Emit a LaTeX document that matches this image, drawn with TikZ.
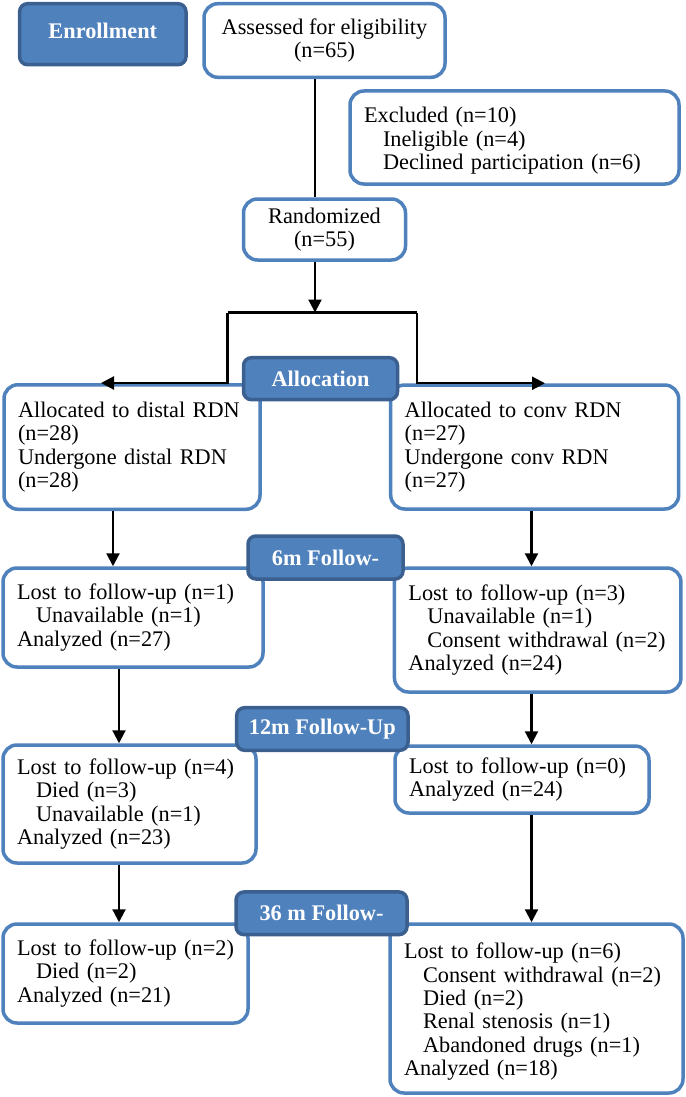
\documentclass[tikz,border=0pt]{standalone}
\usepackage{fontspec}
\setmainfont{Liberation Serif}
\usetikzlibrary{arrows.meta}
\definecolor{boxblue}{HTML}{4F81BD}
\definecolor{hdrfill}{HTML}{4F81BD}
\definecolor{hdrdraw}{HTML}{3B6090}
\newcommand{\myind}{\hspace*{19pt}}
\begin{document}
\begin{tikzpicture}[x=1pt,y=-1pt,
  font=\fontsize{22.3}{23.3}\selectfont,
  wbox/.style={draw=boxblue, line width=3.5pt, rounded corners=14pt, fill=white, inner xsep=14pt, inner ysep=0pt},
  lbox/.style={wbox, align=left},
  cbox/.style={wbox, align=center},
  hdr/.style={draw=hdrdraw, fill=hdrfill, line width=3.5pt, rounded corners=8pt, text=white,
    font=\fontsize{22.3}{23.3}\selectfont\bfseries, inner sep=0pt},
  conn/.style={line width=2.2pt, draw=black},
  arr/.style={conn, -{Triangle[length=13pt,width=13pt]}}]
\useasboundingbox (0,0) rectangle (685,1097);
\fill[white] (0,0) rectangle (685,1097);

% white boxes
\node[cbox, minimum width=241pt, minimum height=73.6pt] (assess) at (324.5,40.5) {Assessed for eligibility\\(n=65)};
\node[lbox, minimum height=93pt, text width=301pt] (excl) at (514.5,137.5)
  {\rule{0pt}{22pt}Excluded (n=10)\\\myind Ineligible (n=4)\\\myind Declined participation (n=6)};
\node[cbox, minimum width=162pt, minimum height=61pt] (rand) at (324.5,229.5) {Randomized\\(n=55)};
\node[lbox, minimum height=124.5pt, text width=228pt] (allocL) at (132,447)
  {Allocated to distal RDN\\(n=28)\\Undergone distal RDN\\(n=28)};
\node[lbox, minimum height=124pt, text width=260pt] (allocR) at (534.7,447)
  {Allocated to conv RDN\\(n=27)\\Undergone conv RDN\\(n=27)};
\node[lbox, minimum height=99pt, text width=232pt] (fuSixL) at (133,617.5)
  {Lost to follow-up (n=1)\\\myind Unavailable (n=1)\\Analyzed (n=27)};
\node[lbox, minimum height=124pt, text width=258.5pt] (fuSixR) at (537.7,630)
  {Lost to follow-up (n=3)\\\myind Unavailable (n=1)\\\myind Consent withdrawal (n=2)\\Analyzed (n=24)};
\node[lbox, minimum height=118pt, text width=225pt] (fuTwL) at (129.5,804)
  {Lost to follow-up (n=4)\\\myind Died (n=3)\\\myind Unavailable (n=1)\\Analyzed (n=23)};
\node[lbox, minimum height=67pt, text width=226pt] (fuTwR) at (522,779.5)
  {Lost to follow-up (n=0)\\Analyzed (n=24)};
\node[lbox, minimum height=99pt, text width=217pt] (fuThL) at (125.5,973.5)
  {Lost to follow-up (n=2)\\\myind Died (n=2)\\Analyzed (n=21)};
\node[lbox, minimum height=169pt, text width=265pt] (fuThR) at (536.5,1008.5)
  {\rule{0pt}{22pt}Lost to follow-up (n=6)\\\myind Consent withdrawal (n=2)\\\myind Died (n=2)\\\myind Renal stenosis (n=1)\\\myind Abandoned drugs (n=1)\\Analyzed (n=18)};

% header boxes
\node[hdr, minimum width=166.4pt, minimum height=61pt] (enroll) at (102.8,34.2) {\raisebox{7pt}{Enrollment}};
\node[hdr, minimum width=154pt, minimum height=42pt] (alloc) at (320.5,378.7) {Allocation};
\node[hdr, minimum width=155pt, minimum height=43pt] (hSix) at (325.5,557.5) {6m Follow-};
\node[hdr, minimum width=171.4pt, minimum height=42.6pt] (hTw) at (322.3,729) {12m Follow-Up};
\node[hdr, minimum width=171pt, minimum height=42.7pt] (hTh) at (321.5,913.3) {36 m Follow-};

% helper coordinates
\coordinate (spine) at (315,0);
\coordinate (splitL) at (227.5,312.5);
\coordinate (splitR) at (417,312.5);
\coordinate (tipL) at (101,0);
\coordinate (tipR) at (545,0);
\coordinate (colLa) at (113,0);
\coordinate (colLb) at (119,0);
\coordinate (colR) at (531.5,0);

% connectors
\draw[conn] (assess.south -| spine) -- (rand.north -| spine);
\draw[arr] (rand.south -| spine) -- (spine |- splitL);
\draw[conn] (splitL) -- (splitR);
\draw[arr] (splitL) -- (splitL |- allocL.north) -- (allocL.north -| tipL);
\draw[arr] (splitR) -- (splitR |- allocR.north) -- (allocR.north -| tipR);
\draw[arr] (allocL.south -| colLa) -- (fuSixL.north -| colLa);
\draw[arr] (allocR.south -| colR) -- (fuSixR.north -| colR);
\draw[arr] (fuSixL.south -| colLb) -- (fuTwL.north -| colLb);
\draw[arr] (fuSixR.south -| colR) -- (fuTwR.north -| colR);
\draw[arr] (fuTwL.south -| colLb) -- (fuThL.north -| colLb);
\draw[arr] (fuTwR.south -| colR) -- (fuThR.north -| colR);
\end{tikzpicture}
\end{document}
